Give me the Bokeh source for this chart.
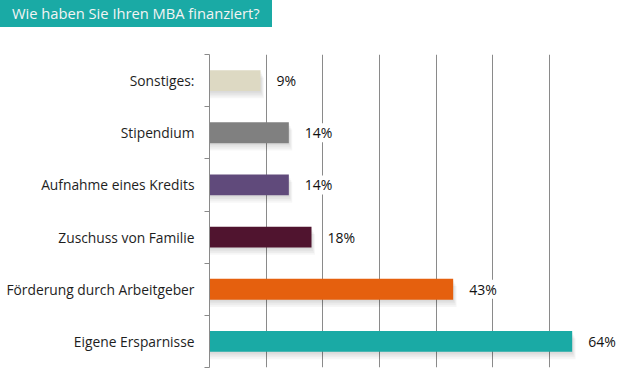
from bokeh.plotting import figure
from bokeh.models import (Range1d, FixedTicker, ColumnDataSource, LabelSet, Div)
from bokeh.core.properties import value
from bokeh.layouts import column
from bokeh.embed import file_html
from bokeh.resources import INLINE

# Data (bottom to top)
categories = ["Eigene Ersparnisse", "Förderung durch Arbeitgeber", "Zuschuss von Familie",
              "Aufnahme eines Kredits", "Stipendium", "Sonstiges:"]
values = [64, 43, 18, 14, 14, 9]
colors = ["#1AAAA5", "#E5600E", "#50142F", "#604A7B", "#808080", "#DDD9C3"]
title_text = "Wie haben Sie Ihren MBA finanziert?"
grid_ticks = [10, 20, 30, 40, 50, 60]

pos = [i + 0.5 for i in range(len(categories))]
labels = [f"{v}%" for v in values]
src = ColumnDataSource(dict(y=pos, v=values, c=colors, lab=labels))

p = figure(width=635, height=362, output_backend="svg", toolbar_location=None,
           x_range=Range1d(0, 72), y_range=Range1d(0, len(categories)),
           min_border_left=209, min_border_right=18, min_border_top=27, min_border_bottom=22)
p.outline_line_color = None
p.background_fill_color = "white"

# grid
p.xaxis.visible = False
p.xgrid.ticker = FixedTicker(ticks=grid_ticks)
p.xgrid.grid_line_color = "#8a8a8a"
p.xgrid.grid_line_width = 1
p.ygrid.grid_line_color = None

# y axis with ticks at category boundaries
yax = p.yaxis[0]
yax.ticker = FixedTicker(ticks=pos, minor_ticks=list(range(len(categories) + 1)))
yax.major_label_overrides = {pp: c for pp, c in zip(pos, categories)}
yax.major_tick_line_color = None
yax.major_tick_out = 0
yax.major_tick_in = 0
yax.minor_tick_line_color = "#8a8a8a"
yax.minor_tick_out = 5
yax.minor_tick_in = 0
yax.axis_line_color = "#8a8a8a"
yax.major_label_standoff = 10
yax.major_label_text_font = "Open Sans"
yax.major_label_text_font_size = "13.8px"
yax.major_label_text_color = "#1e1e1e"

# soft shadows
for k in range(1, 5):
    p.hbar(y=[y - 0.035 * k for y in pos], right=[v + 0.15 * k for v in values], left=0,
           height=0.4, fill_color="#000000", fill_alpha=0.035, line_color=None)

p.hbar(y="y", right="v", left=0, height=0.4, fill_color="c", line_color=None, source=src)

vl = LabelSet(x="v", y="y", text="lab", source=src, x_offset=16, text_baseline="middle",
              text_align="left", text_font=value("Open Sans"), text_font_size=value("14px"),
              text_color=value("#111111"), background_fill_color=value("white"))
p.add_layout(vl)

title = Div(text=f'<div style="display:inline-block;background:#1AAAA5;color:#f4f4f4;'
                 f'font-family:\'Open Sans\';font-size:14.7px;height:27px;line-height:26px;'
                 f'padding:0 12px 0 12px;white-space:nowrap;">{title_text}</div>',
            width=635, height=27, margin=0)
p.margin = 0

layout = column(title, p, spacing=0)
open("out.html", "w").write(file_html(layout, INLINE))
